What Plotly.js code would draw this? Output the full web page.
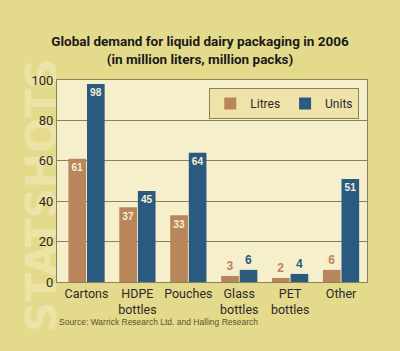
<!DOCTYPE html>
<html><head><meta charset="utf-8">
<script src="https://cdn.plot.ly/plotly-3.0.1.min.js"></script>
<style>html,body{margin:0;padding:0;background:#e4da8c;}#chart{width:400px;height:351px;}</style>
</head><body><div id="chart"></div>
<script>
const categories = ["Cartons", "HDPE<br>bottles", "Pouches", "Glass<br>bottles", "PET<br>bottles", "Other"];
const litres = [61, 37, 33, 3, 2, 6];
const units = [98, 45, 64, 6, 4, 51];
const yTicks = [0, 20, 40, 60, 80, 100];

const tan = "#b8865a", blue = "#2b5a80";
function pos(v){ return v.map(x => x >= 15 ? "inside" : "outside"); }
function col(v, c){ return v.map(x => x >= 15 ? "#f6efd6" : c); }
const font = "Roboto, Liberation Sans, sans-serif";
const labelFont = "Liberation Sans, Arial, sans-serif";

const traces = [
  {type:"bar", name:"Litres", x:categories, y:litres, marker:{color:tan},
   text:litres.map(String), textposition:pos(litres), insidetextanchor:"end", textangle:0,
   textfont:{family:labelFont, size:12, color:col(litres, tan), weight:"bold"},
   cliponaxis:false, hoverinfo:"none"},
  {type:"bar", name:"Units", x:categories, y:units, marker:{color:blue},
   text:units.map(String), textposition:pos(units), insidetextanchor:"end", textangle:0,
   textfont:{family:labelFont, size:12, color:col(units, blue), weight:"bold"},
   cliponaxis:false, hoverinfo:"none"}
];

const pw = 400 - 57 - 33, ph = 351 - 80 - 69;
const layout = {
  width:400, height:351,
  paper_bgcolor:"#e4da8c", plot_bgcolor:"#f6efcc",
  margin:{l:57, r:33, t:80, b:69},
  barmode:"group", bargap:0.27, bargroupgap:0.05,
  title:{text:"<b>Global demand for liquid dairy packaging in 2006<br>(in million liters, million packs)</b>",
    font:{family:font, size:13.5, color:"#1a1a1a"}, x:0.5, xanchor:"center", y:0.868, yanchor:"middle"},
  xaxis:{range:[-0.58, 5.51], tickfont:{family:font, size:12.5, color:"#2a2a2a"}, tickangle:0, showline:true, linecolor:"#8a8158", linewidth:1, mirror:true, ticks:"", fixedrange:true},
  yaxis:{range:[0,100], tickvals:yTicks, ticktext:yTicks.map(String), tickfont:{family:font, size:13, color:"#2a2a2a"},
    showgrid:true, gridcolor:"#8a8158", gridwidth:1, showline:true, linecolor:"#8a8158", mirror:true, zeroline:false, ticks:"", ticklen:0},
  legend:{orientation:"h", x:0.975, xanchor:"right", y:0.96, yanchor:"top", bgcolor:"#efe3aa", bordercolor:"#8a8158", borderwidth:1,
    font:{family:font, size:12, color:"#2a2a2a"}, itemwidth:30},
  annotations:[
    {text:"<b>STATSHOTS</b>", x:(41 - 57) / pw, y:(351 - 69 - 195) / ph, xref:"paper", yref:"paper", xanchor:"center", yanchor:"middle",
     textangle:-90, showarrow:false, font:{family:"DejaVu Sans", size:42, color:"#ece3a6"}},
    {text:"Source: Warrick Research Ltd. and Halling Research", x:0, xref:"paper", y:0, yref:"paper",
     xanchor:"left", yanchor:"middle", yshift:-40, showarrow:false, font:{family:"Liberation Sans, Arial, sans-serif", size:8.5, color:"#5a5530"}}
  ],
  showlegend:true
};
Plotly.newPlot("chart", traces, layout, {staticPlot:true, displayModeBar:false}).then(gd => {
  // put the watermark behind the axes so tick labels are drawn over it
  const wm = gd.querySelector('g.annotation[data-index="0"]');
  const svg = gd.querySelector('svg.main-svg');
  if (wm && svg) {
    const bg = svg.querySelector('g.bglayer') || svg.firstChild;
    svg.insertBefore(wm, bg);
  }
});
</script></body></html>
